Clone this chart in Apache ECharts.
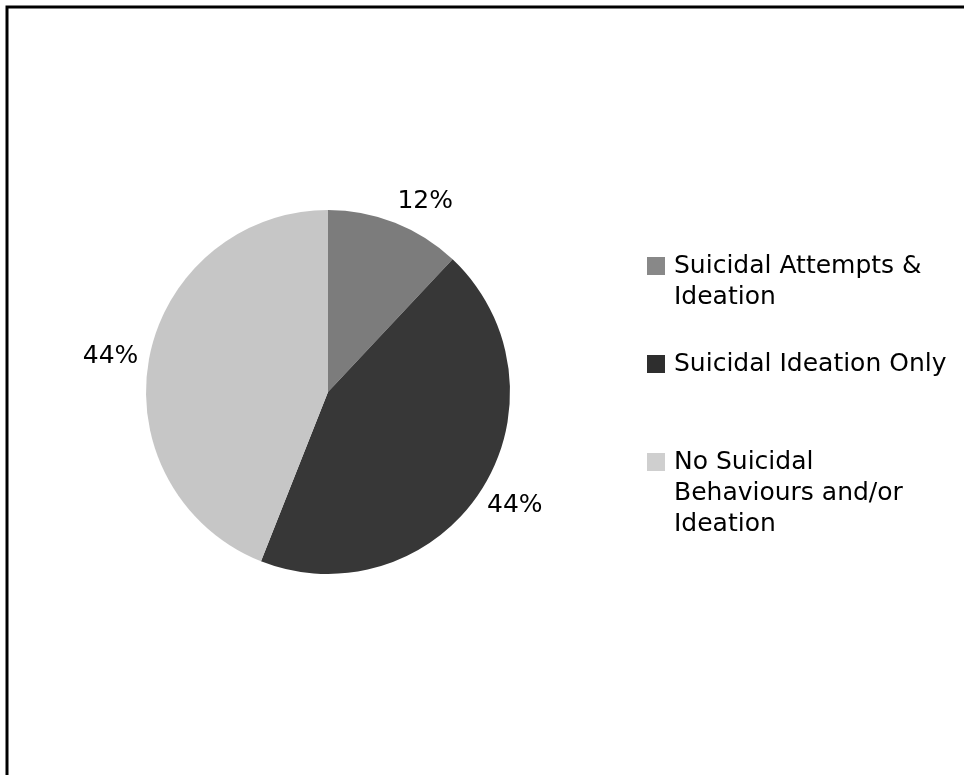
<!DOCTYPE html>
<html>
<head>
<meta charset="utf-8">
<script src="https://cdn.jsdelivr.net/npm/echarts@6/dist/echarts.min.js"></script>
<style>
html,body{margin:0;padding:0;background:#fff;}
#chart{width:964px;height:775px;}
</style>
</head>
<body>
<div id="chart"></div>
<script>
// Data
var categories = ['Suicidal Attempts & Ideation', 'Suicidal Ideation Only', 'No Suicidal Behaviours and/or Ideation'];
var legendLabels = ['Suicidal Attempts &\nIdeation', 'Suicidal Ideation Only', 'No Suicidal\nBehaviours and/or\nIdeation'];
var values = [12, 44, 44];

// Styles
var sliceColors = ['#7c7c7c', '#373737', '#c6c6c6'];
var markerColors = ['#888888', '#2e2e2e', '#cfcfcf'];
var FONT = '"DejaVu Sans", Verdana, sans-serif';
var labelTweaks = [
  {length: 23, dist: -6},
  {length: 30, dist: -20},
  {length: 6, dist: 5}
];

var chart = echarts.init(document.getElementById('chart'), null, {renderer: 'canvas'});

var pieData = categories.map(function (c, i) {
  return {
    name: c,
    value: values[i],
    itemStyle: {color: sliceColors[i]},
    labelLine: {show: false, length: labelTweaks[i].length, length2: 0},
    label: {distanceToLabelLine: labelTweaks[i].dist}
  };
});

// Custom legend (marker aligned to first text line)
var legendFirstLineCenters = [266, 364, 462];
var LH = 31;
var legendGraphics = [];
legendLabels.forEach(function (t, i) {
  var cy = legendFirstLineCenters[i];
  legendGraphics.push({
    type: 'rect',
    shape: {x: 647, y: cy - 9, width: 18, height: 18},
    style: {fill: markerColors[i]}
  });
  legendGraphics.push({
    type: 'text',
    x: 674,
    y: cy - LH / 2,
    style: {
      text: t,
      font: '25px ' + FONT,
      lineHeight: LH,
      fill: '#000',
      textVerticalAlign: 'top',
      verticalAlign: 'top',
      align: 'left'
    }
  });
});

var option = {
  backgroundColor: '#ffffff',
  animation: false,
  graphic: [
    {
      type: 'rect',
      shape: {x: 7, y: 7, width: 1000, height: 1000},
      style: {fill: 'none', stroke: '#000', lineWidth: 3},
      z: 100
    }
  ].concat(legendGraphics),
  series: [{
    type: 'pie',
    center: [328, 392],
    radius: 182,
    startAngle: 90,
    clockwise: true,
    avoidLabelOverlap: false,
    data: pieData,
    label: {
      show: true,
      position: 'outside',
      formatter: '{d}%',
      fontFamily: FONT,
      fontSize: 25,
      color: '#000'
    },
    labelLine: {show: false},
    emphasis: {disabled: true}
  }]
};
chart.setOption(option);
</script>
</body>
</html>
